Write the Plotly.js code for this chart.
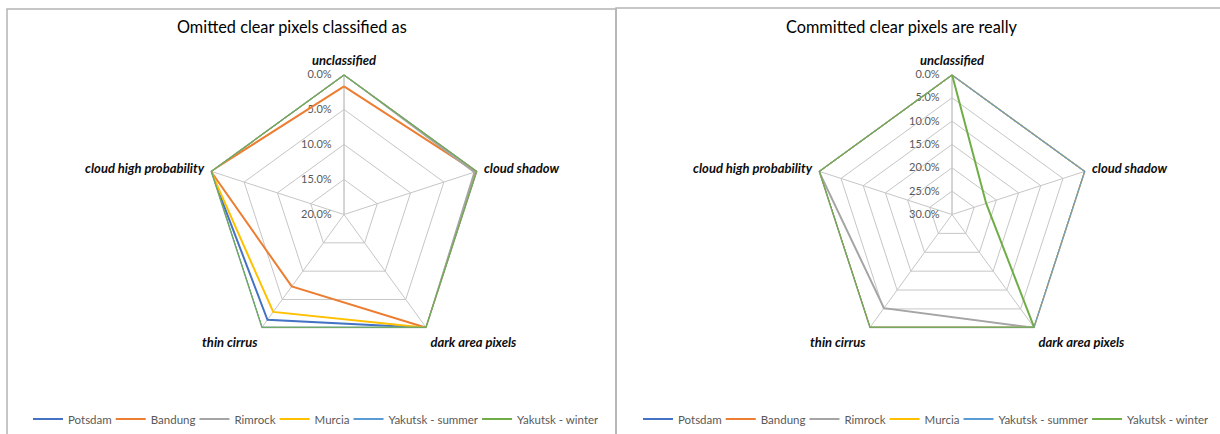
<!DOCTYPE html>
<html>
<head>
<meta charset="utf-8">
<script src="https://cdn.plot.ly/plotly-3.0.1.min.js"></script>
<style>html,body{margin:0;padding:0;background:#fff;}#chart{width:1220px;height:434px;}</style>
</head>
<body>
<div id="chart"></div>
<script>
// ---- data ----
var categories = ["unclassified", "cloud shadow", "dark area pixels", "thin cirrus", "cloud high probability"];
var seriesNames = ["Potsdam", "Bandung", "Rimrock", "Murcia", "Yakutsk - summer", "Yakutsk - winter"];
var seriesColors = ["#4472C4", "#ED7D31", "#A5A5A5", "#FFC000", "#5B9BD5", "#70AD47"];

// Omitted clear pixels classified as (fractions)
var omittedPotsdam  = [0.000, 0.000, 0.000, 0.014, 0.000];
var omittedBandung  = [0.017, 0.002, 0.000, 0.073, 0.000];
var omittedRimrock  = [0.000, 0.004, 0.000, 0.000, 0.000];
var omittedMurcia   = [0.000, 0.000, 0.000, 0.028, 0.000];
var omittedYakSum   = [0.000, 0.000, 0.000, 0.000, 0.000];
var omittedYakWin   = [0.000, 0.000, 0.000, 0.000, 0.000];

// Committed clear pixels are really (fractions)
var committedPotsdam = [0.000, 0.000, 0.000, 0.000, 0.000];
var committedBandung = [0.000, 0.000, 0.000, 0.000, 0.000];
var committedRimrock = [0.000, 0.000, 0.000, 0.052, 0.000];
var committedMurcia  = [0.000, 0.000, 0.000, 0.000, 0.000];
var committedYakSum  = [0.000, 0.000, 0.000, 0.000, 0.000];
var committedYakWin  = [0.000, 0.223, 0.000, 0.000, 0.000];

var leftTicks = [0, 0.05, 0.10, 0.15, 0.20];
var rightTicks = [0, 0.05, 0.10, 0.15, 0.20, 0.25, 0.30];

var omitted = [omittedPotsdam, omittedBandung, omittedRimrock, omittedMurcia, omittedYakSum, omittedYakWin];
var committed = [committedPotsdam, committedBandung, committedRimrock, committedMurcia, committedYakSum, committedYakWin];

var W = 1220, H = 434;
function px(x) { return x / W; }
function py(y) { return 1 - y / H; }
function closeLoop(a) { return a.concat([a[0]]); }

var FONT = "Lato, 'Open Sans', sans-serif";
var LEGEND_SIZE = 11.5;
var grid = "#c6c6c6";

// measure legend texts so that each entry is only as wide as its label
var cv = document.createElement("canvas").getContext("2d");
cv.font = LEGEND_SIZE + "px Lato";
function entryW(name) { return Math.max(10, cv.measureText(name).width - 6); }

var traces = [];
omitted.forEach(function (vals, i) {
  traces.push({
    type: "scatterpolar", mode: "lines", subplot: "polar", legend: "legend",
    name: seriesNames[i], r: closeLoop(vals), theta: closeLoop(categories),
    legendwidth: entryW(seriesNames[i]),
    line: {color: seriesColors[i], width: 2}, hoverinfo: "skip"
  });
});
committed.forEach(function (vals, i) {
  traces.push({
    type: "scatterpolar", mode: "lines", subplot: "polar2", legend: "legend2",
    name: seriesNames[i], r: closeLoop(vals), theta: closeLoop(categories),
    legendwidth: entryW(seriesNames[i]),
    line: {color: seriesColors[i], width: 2}, hoverinfo: "skip"
  });
});

function polarLayout(cx, cy, R, ticks) {
  return {
    domain: {x: [px(cx - R), px(cx + R)], y: [py(cy + R), py(cy - R)]},
    gridshape: "linear",
    bgcolor: "rgba(0,0,0,0)",
    radialaxis: {
      range: [ticks[ticks.length - 1], 0],
      tickvals: ticks, tickformat: ".1%",
      angle: 90, side: "counterclockwise", tickangle: 90,
      showline: true, linecolor: grid, linewidth: 1, layer: "below traces",
      gridcolor: grid, gridwidth: 1,
      ticks: "outside", ticklen: 8, tickcolor: "rgba(0,0,0,0)",
      tickfont: {family: FONT, size: 11, color: "#595959"}
    },
    angularaxis: {
      rotation: 90, direction: "clockwise",
      showline: true, linecolor: grid, linewidth: 1, layer: "below traces",
      gridcolor: grid, gridwidth: 1,
      ticks: "outside", ticklen: 4, tickcolor: "rgba(0,0,0,0)",
      tickfont: {family: FONT, size: 13, color: "#0d0d0d", weight: "bold", style: "italic"}
    }
  };
}

var legendBase = {
  orientation: "h", y: py(422), yanchor: "middle", xanchor: "center",
  font: {family: FONT, size: LEGEND_SIZE, color: "#595959"}, itemwidth: 30, bgcolor: "rgba(0,0,0,0)"
};

var layout = {
  width: W, height: H,
  margin: {l: 0, r: 0, t: 0, b: 0},
  paper_bgcolor: "#ffffff",
  font: {family: FONT},
  polar: polarLayout(344, 216, 141, leftTicks),
  polar2: polarLayout(952, 216, 141, rightTicks),
  legend: Object.assign({}, legendBase, {x: px(313)}),
  legend2: Object.assign({}, legendBase, {x: px(923)}),
  annotations: [
    {text: "Omitted clear pixels classified as", xref: "paper", yref: "paper",
     x: px(292), y: py(27), xanchor: "center", yanchor: "middle", showarrow: false,
     font: {family: FONT, size: 16.3, color: "#000000"}},
    {text: "Committed clear pixels are really", xref: "paper", yref: "paper",
     x: px(901), y: py(27), xanchor: "center", yanchor: "middle", showarrow: false,
     font: {family: FONT, size: 16.3, color: "#000000"}}
  ],
  shapes: [
    {type: "rect", xref: "paper", yref: "paper", x0: px(7), x1: px(616), y0: py(445), y1: py(9),
     line: {color: "#b4b4b4", width: 1.5}},
    {type: "rect", xref: "paper", yref: "paper", x0: px(616), x1: px(1235), y0: py(445), y1: py(8),
     line: {color: "#b4b4b4", width: 1.5}}
  ],
  showlegend: true
};

Plotly.newPlot("chart", traces, layout, {staticPlot: true, displayModeBar: false});
</script>
</body>
</html>
